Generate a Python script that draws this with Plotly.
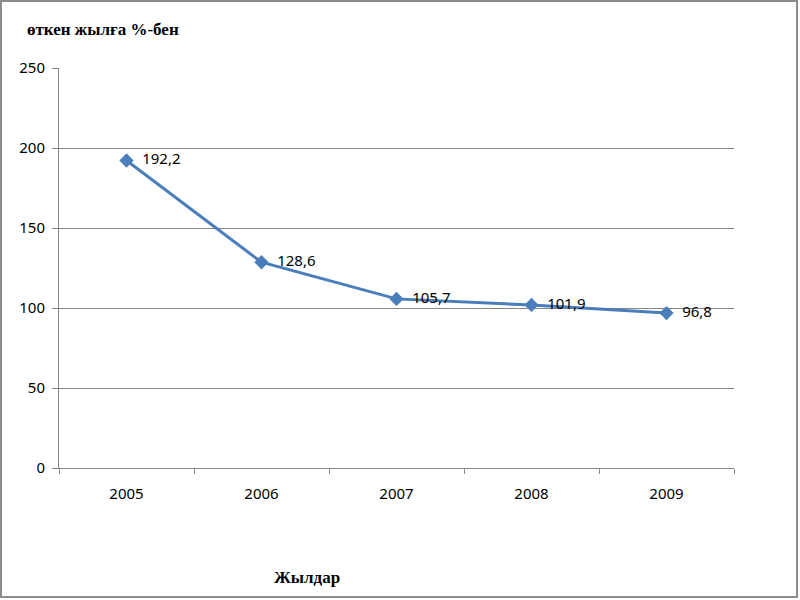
import plotly.graph_objects as go

years = ["2005", "2006", "2007", "2008", "2009"]
values = [192.2, 128.6, 105.7, 101.9, 96.8]
labels = ["  192,2", "  128,6", "  105,7", "  101,9", "  96,8"]
y_ticks = [0, 50, 100, 150, 200, 250]

L, R, T, B = 59, 66, 68, 132
W, H = 800, 600
pw, ph = W - L - R, H - T - B

fig = go.Figure()
fig.add_trace(go.Scatter(
    x=years, y=values, mode="lines+markers+text",
    text=labels, textposition="middle right",
    textfont=dict(family="Noto Sans, DejaVu Sans, sans-serif", size=15, color="#000000"),
    line=dict(color="#4A7EBB", width=3),
    marker=dict(symbol="diamond", size=11, color="#4A7EBB"),
    cliponaxis=False,
))

def px_x(p):
    return (p - L) / pw

def px_y(p):
    return (H - B - p) / ph

fig.update_layout(
    width=W, height=H,
    margin=dict(l=L, r=R, t=T, b=B),
    plot_bgcolor="white", paper_bgcolor="white",
    showlegend=False,
    font=dict(family="Noto Sans, DejaVu Sans, sans-serif", size=15, color="#000000"),
    xaxis=dict(
        type="category", range=[-0.5, 4.5], tickson="boundaries", ticks="outside", ticklen=5,
        tickcolor="#868686", showline=True, linecolor="#868686", linewidth=1,
        showgrid=False, tickfont=dict(size=15), ticklabelstandoff=12,
    ),
    yaxis=dict(
        range=[0, 250], tickvals=y_ticks, ticks="outside", ticklen=6,
        tickcolor="#868686", showline=True, linecolor="#868686", linewidth=1,
        showgrid=True, gridcolor="#868686", gridwidth=1, zeroline=False,
        tickfont=dict(size=15), ticklabelstandoff=4,
    ),
    shapes=[dict(
        type="rect", xref="paper", yref="paper",
        x0=px_x(1), x1=px_x(797), y0=px_y(597), y1=px_y(1),
        line=dict(color="#8C8C8C", width=2), fillcolor="rgba(0,0,0,0)",
        layer="below",
    )],
    annotations=[
        dict(text="<b>өткен жылға %-бен</b>", xref="paper", yref="paper",
             x=px_x(25), y=px_y(29), xanchor="left", yanchor="middle",
             showarrow=False,
             font=dict(family="Liberation Serif, Times New Roman, serif", size=17, color="#000000")),
        dict(text="<b>Жылдар</b>", xref="paper", yref="paper",
             x=px_x(307), y=px_y(577), xanchor="center", yanchor="middle",
             showarrow=False,
             font=dict(family="Liberation Serif, Times New Roman, serif", size=17, color="#000000")),
    ],
)

fig.write_html("out.html", config={"displayModeBar": False},
               post_script="document.body.style.margin='0';document.body.style.overflow='hidden';")
